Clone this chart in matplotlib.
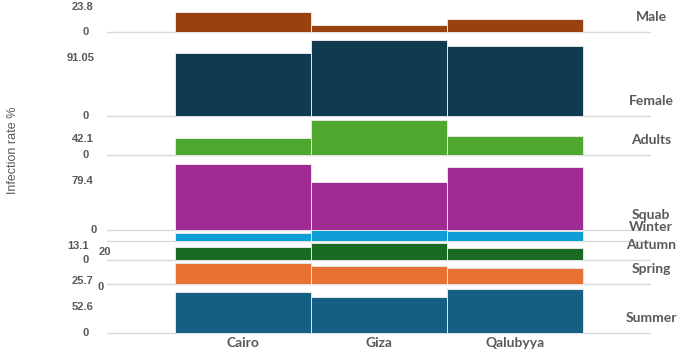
import matplotlib

matplotlib.use("Agg")

from matplotlib import pyplot as plt  # noqa: E402

# data: infection rate % per governorate, one panel per group
CITIES = ["Cairo", "Giza", "Qalubyya"]
GROUPS = ["Male", "Female", "Adults", "Squab", "Winter", "Autumn", "Spring", "Summer"]
MALE = [23.8, 8.3, 15.1]
FEMALE = [75.5, 91.05, 83.9]
ADULTS = [20.9, 42.1, 23.3]
SQUAB = [79.4, 57.8, 75.9]
WINTER = [9.3, 13.1, 11.8]
AUTUMN = [15.6, 20.0, 14.7]
SPRING = [25.7, 22.1, 19.7]
SUMMER = [48.5, 43.3, 52.6]

# axis labels as they appear on the left, (text, panel, offset from panel zero)
TICK_LABELS = [
    ("23.8", "Male", 29.4), ("0", "Male", 0),
    ("91.05", "Female", 69.1), ("0", "Female", 0),
    ("42.1", "Adults", 18.8), ("0", "Adults", 0),
    ("79.4", "Squab", 58.7), ("0", "Squab", 0),
    ("13.1", "Winter", -5.7), ("20", "Autumn", 9.9), ("0", "Autumn", 0),
    ("25.7", "Spring", 3.6), ("0", "Spring", -3.9),
    ("52.6", "Summer", 30.8), ("0", "Summer", 0),
]
TICK_X = [-0.025, -0.034, -0.023, -0.034, -0.025, -0.034, -0.025, -0.019,
          -0.033, 0.008, -0.034, -0.025, -0.006, -0.025, -0.034]

COLORS = {
    "Male": "#99410f", "Female": "#0f3a4f", "Adults": "#4ea72e", "Squab": "#a02b93",
    "Winter": "#0f9ed5", "Autumn": "#196b24", "Spring": "#e97132", "Summer": "#156082",
}
# zero line of each panel on the shared scale
BASES = {
    "Male": 360.1, "Female": 259.5, "Adults": 212.8, "Squab": 123.0,
    "Winter": 109.5, "Autumn": 87.1, "Spring": 58.3, "Summer": 0.0,
}
VALUES = {
    "Male": MALE, "Female": FEMALE, "Adults": ADULTS, "Squab": SQUAB,
    "Winter": WINTER, "Autumn": AUTUMN, "Spring": SPRING, "Summer": SUMMER,
}

TEXT = "#595959"
LINE = "#d9d9d9"

fig = plt.figure(figsize=(6.85, 3.6), dpi=100)
ax = fig.add_axes([107 / 685, 15 / 360, 544 / 685, 345 / 360])

x = list(range(len(CITIES)))
for group in GROUPS:
    base = BASES[group]
    ax.axhline(base, color=LINE, linewidth=1.0, zorder=1)
    ax.bar(x, VALUES[group], width=1.0, bottom=base, color=COLORS[group],
           edgecolor="#e6e6e6", linewidth=0.7, zorder=2)
    ax.annotate(group, xy=(3.0, base), xytext=(0, 10.5), textcoords="offset points",
                ha="center", va="center", fontsize=10, fontweight="bold",
                color=TEXT, family="Lato", annotation_clip=False)

ytrans = ax.get_yaxis_transform()
for (label, group, offset), tx in zip(TICK_LABELS, TICK_X):
    ax.text(tx, BASES[group] + offset, label, transform=ytrans, ha="right",
            va="center", fontsize=8, fontweight="bold", color=TEXT,
            family="Liberation Sans")

for xi, city in zip(x, CITIES):
    ax.text(xi, -12.4, city, ha="center", va="center", fontsize=10,
            fontweight="bold", color=TEXT, family="Lato")

fig.text(13 / 685, 1 - 150 / 360, "Infection rate %", rotation=90, ha="center",
         va="center", fontsize=9, color=TEXT, family="Liberation Sans")

ax.set_xlim(-1.0, 3.0)
ax.set_ylim(-14.73, 398.4)
ax.axis("off")

fig.savefig("out.png", dpi=100, facecolor="white")
